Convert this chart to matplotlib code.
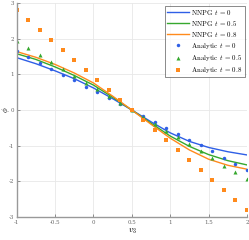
import numpy as np
import matplotlib
matplotlib.use('Agg')
import matplotlib.pyplot as plt

plt.rcParams['mathtext.fontset'] = 'cm'
plt.rcParams['font.family'] = 'serif'
plt.rcParams['font.serif'] = ['DejaVu Serif']

# NNPG curves
x_line = [-1.0, -0.75, -0.5, -0.25, 0.0, 0.25, 0.5, 0.75, 1.0, 1.25, 1.5, 1.75, 2.0]
nnpg_t0 = [1.47, 1.30, 1.10, 0.88, 0.62, 0.32, 0.0, -0.33, -0.64, -0.88, -1.05, -1.17, -1.26]
nnpg_t05 = [1.58, 1.42, 1.21, 0.97, 0.70, 0.36, 0.0, -0.37, -0.73, -1.02, -1.25, -1.42, -1.54]
nnpg_t08 = [1.64, 1.48, 1.28, 1.04, 0.76, 0.39, 0.0, -0.40, -0.79, -1.12, -1.38, -1.55, -1.66]

# analytic points
x_pts = [-1.0, -0.85, -0.7, -0.55, -0.4, -0.25, -0.1, 0.05, 0.2, 0.35, 0.5,
         0.65, 0.8, 0.95, 1.1, 1.25, 1.4, 1.55, 1.7, 1.85, 2.0]
an_t0 = [1.67, 1.50, 1.33, 1.16, 0.99, 0.83, 0.66, 0.50, 0.33, 0.17, 0.0,
         -0.17, -0.33, -0.50, -0.66, -0.83, -0.99, -1.16, -1.35, -1.52, -1.68]
an_t05 = [1.93, 1.74, 1.55, 1.35, 1.16, 0.96, 0.77, 0.58, 0.38, 0.19, 0.0,
          -0.19, -0.38, -0.58, -0.77, -0.96, -1.16, -1.35, -1.56, -1.75, -1.93]
an_t08 = [2.80, 2.52, 2.24, 1.96, 1.68, 1.40, 1.12, 0.84, 0.56, 0.28, 0.0,
          -0.28, -0.56, -0.84, -1.12, -1.40, -1.68, -1.96, -2.24, -2.52, -2.80]

c_blue = '#2f5fe6'
c_green = '#36a82e'
c_orange = '#ff8a1c'

fig = plt.figure(figsize=(2.49, 2.40), dpi=100)
ax = fig.add_axes([0.067, 0.096, 0.925, 0.891])

ax.plot(x_line, nnpg_t0, color=c_blue, lw=1.0, label=r'$\mathrm{NNPG}\;\, t\, =\, 0$')
ax.plot(x_line, nnpg_t05, color=c_green, lw=1.0, label=r'$\mathrm{NNPG}\;\, t\, =\, 0.5$')
ax.plot(x_line, nnpg_t08, color=c_orange, lw=1.0, label=r'$\mathrm{NNPG}\;\, t\, =\, 0.8$')
ax.plot(x_pts, an_t0, 'o', color=c_blue, ms=2.5, mew=0, label=r'$\mathrm{Analytic}\;\, t\, =\, 0$')
ax.plot(x_pts, an_t05, '^', color=c_green, ms=2.9, mew=0, label=r'$\mathrm{Analytic}\;\, t\, =\, 0.5$')
ax.plot(x_pts, an_t08, 's', color=c_orange, ms=2.4, mew=0, label=r'$\mathrm{Analytic}\;\, t\, =\, 0.8$')

ax.set_xlim(-1, 2)
ax.set_ylim(-3, 3)
ax.set_xticks([-1, -0.5, 0, 0.5, 1, 1.5, 2])
ax.set_xticklabels(['-1', '-0.5', '0', '0.5', '1', '1.5', '2'])
ax.set_yticks([-3, -2, -1, 0, 1, 2, 3])
ax.set_yticklabels(['-3', '-2', '-1', '0', '1', '2', '3'])
ax.tick_params(labelsize=4, colors='#666666', direction='in', length=2, width=0.5, pad=2)
ax.grid(True, color='#e8e8e8', lw=0.6)
ax.set_axisbelow(True)
for s in ['top', 'right']:
    ax.spines[s].set_visible(False)
for s in ['left', 'bottom']:
    ax.spines[s].set_color('#999999')
    ax.spines[s].set_linewidth(1.0)

ax.set_xlabel(r'$v_3$', fontsize=6, labelpad=1)
fig.text(5.5 / 249, 0.542, r'$\phi$', fontsize=5.5, rotation=90, ha='center', va='center')

leg = ax.legend(loc='upper right', fontsize=5, frameon=True, fancybox=False,
                edgecolor='#333333', handlelength=3.2, handletextpad=0.3,
                labelspacing=0.3, borderpad=0.3, borderaxespad=0.35)
leg.get_frame().set_linewidth(0.5)

plt.savefig('out.png', dpi=100)
